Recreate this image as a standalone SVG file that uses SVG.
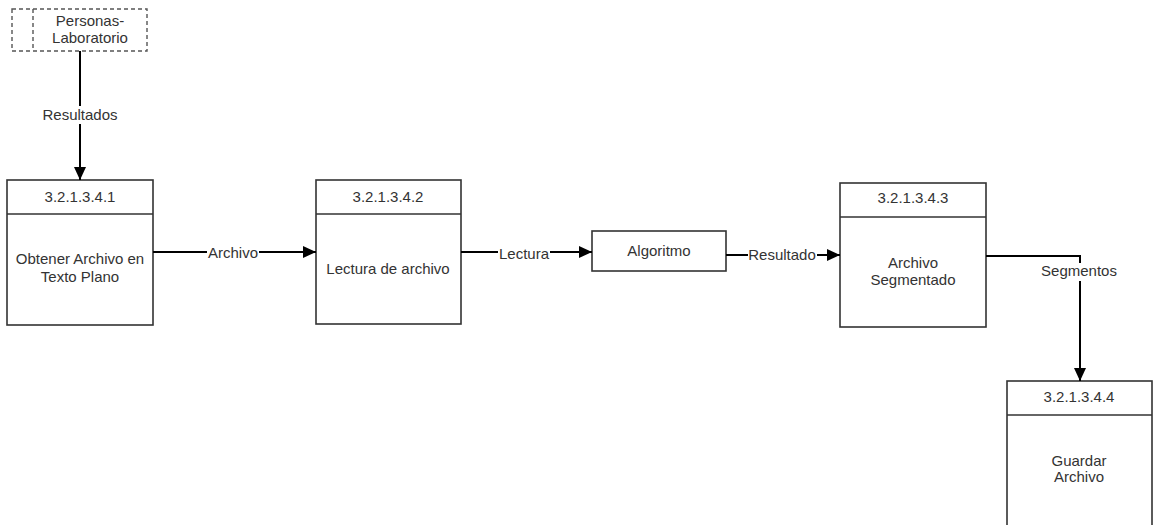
<svg xmlns="http://www.w3.org/2000/svg" width="1154" height="525" viewBox="0 0 1154 525">
  <style>
    text { font-family: "Liberation Sans", Arial, sans-serif; font-size: 15px; fill: #333; text-anchor: middle; }
    .box { fill: #fff; stroke: #333; stroke-width: 1.6; }
    .div { stroke: #333; stroke-width: 1.6; }
    .ext { fill: #fff; stroke: #555; stroke-width: 1.4; stroke-dasharray: 4 3; }
    .flow { fill: none; stroke: #000; stroke-width: 2; marker-end: url(#head); }
    .lbl { fill: #fff; }
  </style>
  <defs>
    <marker id="head" markerUnits="userSpaceOnUse" markerWidth="14" markerHeight="14" refX="13" refY="6" orient="auto">
      <path d="M0,0 L13,6 L0,12 Z" fill="#000"/>
    </marker>
  </defs>
  <rect width="1154" height="525" fill="#fff"/>

  <!-- external entity -->
  <g id="personas">
    <rect class="ext" x="12" y="9" width="135" height="42"/>
    <line class="ext" x1="33" y1="9" x2="33" y2="51"/>
    <text x="90" y="26">Personas-</text>
    <text x="90" y="43">Laboratorio</text>
  </g>

  <!-- processes -->
  <g id="p1">
    <rect class="box" x="7" y="180" width="146" height="145"/>
    <line class="div" x1="7" y1="214" x2="153" y2="214"/>
    <text x="80" y="202">3.2.1.3.4.1</text>
    <text x="80" y="264">Obtener Archivo en</text>
    <text x="80" y="282">Texto Plano</text>
  </g>
  <g id="p2">
    <rect class="box" x="316" y="180" width="145" height="144"/>
    <line class="div" x1="316" y1="214" x2="461" y2="214"/>
    <text x="388" y="202">3.2.1.3.4.2</text>
    <text x="388" y="274">Lectura de archivo</text>
  </g>
  <g id="algoritmo">
    <rect class="box" x="592" y="231" width="134" height="40"/>
    <text x="659" y="256">Algoritmo</text>
  </g>
  <g id="p3">
    <rect class="box" x="840" y="183" width="146" height="144"/>
    <line class="div" x1="840" y1="217" x2="986" y2="217"/>
    <text x="913" y="203">3.2.1.3.4.3</text>
    <text x="913" y="268">Archivo</text>
    <text x="913" y="285">Segmentado</text>
  </g>
  <g id="p4">
    <rect class="box" x="1007" y="381" width="145" height="160"/>
    <line class="div" x1="1007" y1="415" x2="1152" y2="415"/>
    <text x="1079" y="402">3.2.1.3.4.4</text>
    <text x="1079" y="466">Guardar</text>
    <text x="1079" y="482">Archivo</text>
  </g>

  <!-- data flows -->
  <g id="flows">
    <path class="flow" d="M80,51 V180"/>
    <rect class="lbl" x="40" y="106" width="80" height="18"/>
    <text x="80" y="120">Resultados</text>

    <path class="flow" d="M153,252 H316"/>
    <rect class="lbl" x="207" y="244" width="52" height="18"/>
    <text x="233" y="258">Archivo</text>

    <path class="flow" d="M461,252 H592"/>
    <rect class="lbl" x="498" y="245" width="52" height="18"/>
    <text x="524" y="259">Lectura</text>

    <path class="flow" d="M726,255 H840"/>
    <rect class="lbl" x="748" y="247" width="69" height="18"/>
    <text x="782" y="260">Resultado</text>

    <path class="flow" d="M986,256 H1080 V381"/>
    <rect class="lbl" x="1040" y="263" width="78" height="18"/>
    <text x="1079" y="276">Segmentos</text>
  </g>
</svg>
